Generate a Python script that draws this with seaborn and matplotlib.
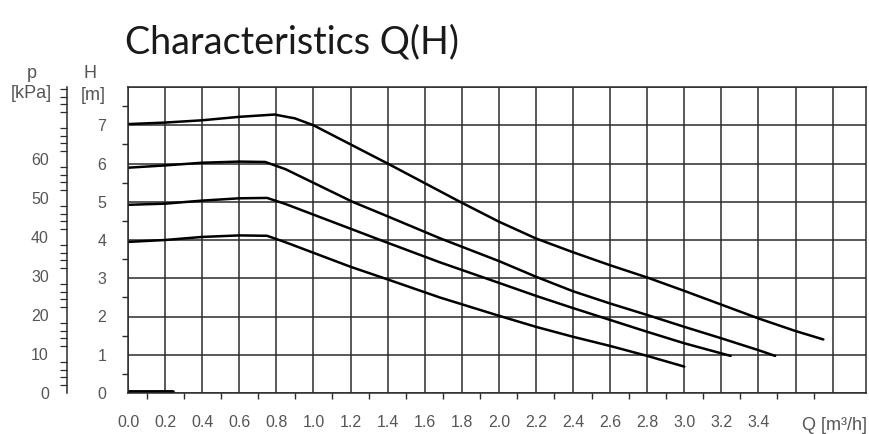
import numpy as np
import pandas as pd
import matplotlib
matplotlib.use("Agg")
import matplotlib.pyplot as plt
import seaborn as sns

# ---- data ----
q1 = [0.0, 0.2, 0.4, 0.6, 0.79, 0.9, 1.0, 1.4, 1.79, 2.0, 2.2, 2.4, 2.6, 2.8, 3.0,
      3.2, 3.4, 3.6, 3.75]
h1 = [7.03, 7.07, 7.13, 7.22, 7.28, 7.18, 7.0, 6.0, 5.0, 4.48, 4.04, 3.68, 3.34,
      3.02, 2.67, 2.31, 1.95, 1.62, 1.40]

q2 = [0.0, 0.2, 0.4, 0.6, 0.74, 0.85, 1.21, 1.36, 1.68, 2.0, 2.2, 2.4, 2.6, 2.8,
      3.0, 3.2, 3.4, 3.49]
h2 = [5.89, 5.95, 6.02, 6.05, 6.04, 5.85, 5.0, 4.70, 4.05, 3.45, 3.04, 2.66, 2.34,
      2.04, 1.73, 1.43, 1.12, 0.97]

q3 = [0.0, 0.2, 0.4, 0.6, 0.75, 0.85, 1.36, 1.68, 2.0, 2.2, 2.4, 2.6, 2.8, 3.0, 3.25]
h3 = [4.92, 4.95, 5.03, 5.09, 5.10, 4.94, 4.0, 3.42, 2.88, 2.54, 2.22, 1.91, 1.60,
      1.30, 0.97]

q4 = [0.0, 0.2, 0.4, 0.6, 0.75, 0.85, 1.2, 1.4, 1.68, 2.0, 2.2, 2.4, 2.6, 2.8, 3.0]
h4 = [3.95, 4.0, 4.08, 4.12, 4.11, 3.94, 3.30, 2.97, 2.50, 2.02, 1.73, 1.47, 1.23,
      0.97, 0.69]

q5 = [0.0, 0.24]
h5 = [0.03, 0.03]

x_ticks = [0.0, 0.2, 0.4, 0.6, 0.8, 1.0, 1.2, 1.4, 1.6, 1.8, 2.0, 2.2, 2.4, 2.6,
           2.8, 3.0, 3.2, 3.4, 3.6, 3.8]
x_labels = ["0.0", "0.2", "0.4", "0.6", "0.8", "1.0", "1.2", "1.4", "1.6", "1.8",
            "2.0", "2.2", "2.4", "2.6", "2.8", "3.0", "3.2", "3.4", "", ""]
h_ticks = [0, 1, 2, 3, 4, 5, 6, 7, 8]
h_labels = ["0", "1", "2", "3", "4", "5", "6", "7", ""]
p_ticks = [0, 10, 20, 30, 40, 50, 60, 70]
p_labels = ["0", "10", "20", "30", "40", "50", "60", ""]

title = "Characteristics Q(H)"
x_unit = "Q [m\u00b3/h]"

frames = []
for name, q, h in [("c1", q1, h1), ("c2", q2, h2), ("c3", q3, h3), ("c4", q4, h4)]:
    frames.append(pd.DataFrame({"Q": q, "H": h, "curve": name}))
df = pd.concat(frames, ignore_index=True)
df_base = pd.DataFrame({"Q": q5, "H": h5})

sns.set_theme(style="white")
plt.rcParams["font.family"] = ["Liberation Sans", "DejaVu Sans"]

W, Hpx = 869, 434
fig = plt.figure(figsize=(W / 100, Hpx / 100), dpi=100)
fig.patch.set_facecolor("white")

left = 128 / W
right = 866 / W
bottom = 41 / Hpx
top = 347 / Hpx
ax = fig.add_axes([left, bottom, right - left, top - bottom])

grid_c = "#2b2b2b"
lab_c = "#555555"

sns.lineplot(data=df, x="Q", y="H", units="curve", estimator=None, sort=False,
             color="black", linewidth=1.8, ax=ax, legend=False)
sns.lineplot(data=df_base, x="Q", y="H", estimator=None, sort=False,
             color="black", linewidth=2.8, ax=ax, legend=False)

ax.set_xlim(0, 3.98)
ax.set_ylim(0, 8)
ax.set_xlabel("")
ax.set_ylabel("")

ax.set_xticks(x_ticks)
ax.set_xticklabels(x_labels)
ax.set_xticks(np.arange(0.1, 3.9, 0.2), minor=True)
ax.set_yticks(h_ticks)
ax.set_yticklabels(h_labels)
ax.set_yticks(np.arange(0.5, 8, 1.0), minor=True)

ax.grid(True, which="major", color=grid_c, linewidth=1.1)
ax.set_axisbelow(True)
for s in ax.spines.values():
    s.set_color(grid_c)
    s.set_linewidth(1.1)

ax.tick_params(axis="x", which="major", direction="out", length=9, width=1.1,
               color=grid_c, pad=7, labelsize=11.5, labelcolor=lab_c)
ax.tick_params(axis="x", which="minor", direction="out", length=4, width=1.0,
               color=grid_c, bottom=True)
ax.tick_params(axis="y", which="major", direction="out", length=9.5, width=1.1,
               color=grid_c, pad=6, labelsize=11.5, labelcolor=lab_c)
ax.tick_params(axis="y", which="minor", direction="out", length=4.5, width=1.0,
               color=grid_c, left=True)

# secondary pressure axis
ax2 = fig.add_axes([67 / W, bottom, 0.0005, top - bottom])
ax2.set_facecolor("none")
ax2.set_ylim(0, 8 * 9.81)
ax2.set_xticks([])
for k in ["top", "right", "bottom"]:
    ax2.spines[k].set_visible(False)
ax2.spines["left"].set_color(grid_c)
ax2.spines["left"].set_linewidth(1.1)
ax2.set_yticks(p_ticks)
ax2.set_yticklabels(p_labels)
ax2.set_yticks(np.arange(0, 79, 2), minor=True)
ax2.tick_params(axis="y", which="major", direction="out", length=10, width=1.0,
                color=grid_c, pad=3, labelsize=11.5, labelcolor=lab_c)
ax2.tick_params(axis="y", which="minor", direction="out", length=5, width=0.9,
                color=grid_c, left=True)

# axis captions
cap = 13
fig.text(32 / W, 1 - 73 / Hpx, "p", ha="center", va="center", fontsize=cap, color=lab_c)
fig.text(31 / W, 1 - 94 / Hpx, "[kPa]", ha="center", va="center", fontsize=cap, color=lab_c)
fig.text(90 / W, 1 - 73 / Hpx, "H", ha="center", va="center", fontsize=cap, color=lab_c)
fig.text(93 / W, 1 - 95 / Hpx, "[m]", ha="center", va="center", fontsize=cap, color=lab_c)
fig.text(867 / W, 1 - 425 / Hpx, x_unit, ha="right", va="center", fontsize=cap,
         color=lab_c)

fig.text(125 / W, 1 - 53 / Hpx, title, ha="left", va="baseline",
         fontsize=27.2, color="#1a1a1a", family=["Lato", "DejaVu Sans"])

fig.savefig("out.png", dpi=100)
